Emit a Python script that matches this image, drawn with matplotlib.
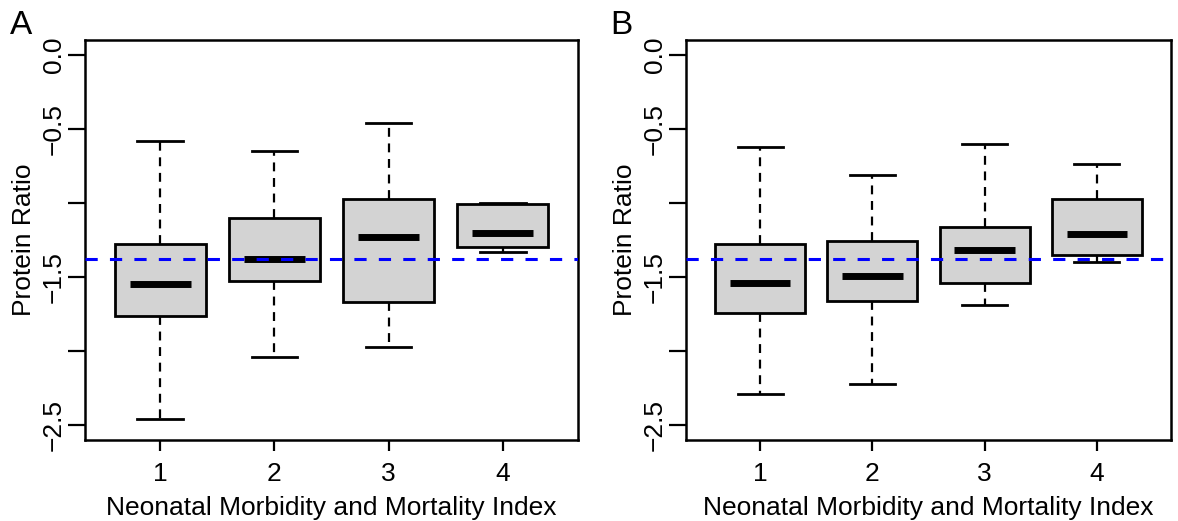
import matplotlib.pyplot as plt

plt.rcParams['font.family'] = ['Liberation Sans', 'DejaVu Sans']

# Neonatal morbidity and mortality index groups
groups = [1, 2, 3, 4]

# Panel A: whisker low, Q1, median, Q3, whisker high
a_whislo = [-2.46, -2.04, -1.97, -1.33]
a_q1 = [-1.76, -1.53, -1.67, -1.30]
a_med = [-1.55, -1.38, -1.23, -1.20]
a_q3 = [-1.28, -1.10, -0.97, -1.01]
a_whishi = [-0.58, -0.65, -0.46, -1.00]

# Panel B
b_whislo = [-2.29, -2.22, -1.69, -1.40]
b_q1 = [-1.74, -1.66, -1.54, -1.35]
b_med = [-1.54, -1.49, -1.32, -1.21]
b_q3 = [-1.28, -1.26, -1.16, -0.97]
b_whishi = [-0.62, -0.81, -0.60, -0.74]

ref_line = -1.38

yticks = [0.0, -0.5, -1.0, -1.5, -2.0, -2.5]
ytick_labels = ['0.0', '\u22120.5', '', '\u22121.5', '', '\u22122.5']

FS = 19


def draw_panel(ax, whislo, q1, med, q3, whishi, letter, fig, lx):
    stats = []
    for i in range(len(groups)):
        stats.append({'whislo': whislo[i], 'q1': q1[i], 'med': med[i],
                      'q3': q3[i], 'whishi': whishi[i], 'fliers': []})
    ax.bxp(stats, positions=groups, widths=0.8, capwidths=0.4,
           patch_artist=True, showfliers=False,
           boxprops=dict(facecolor='#d3d3d3', edgecolor='black', linewidth=2),
           whiskerprops=dict(color='black', linewidth=1.6, linestyle=(0, (4, 3))),
           capprops=dict(color='black', linewidth=2),
           medianprops=dict(visible=False))
    ax.hlines(med, [g - 0.27 for g in groups], [g + 0.27 for g in groups],
              color='black', linewidth=5, zorder=4)
    ax.axhline(ref_line, color='#0000ff', linewidth=2.2,
               linestyle=(0, (4, 4)), zorder=5)

    ax.set_xlim(0.34, 4.66)
    ax.set_ylim(-2.6, 0.1)
    ax.set_xticks(groups)
    ax.set_xticklabels([str(g) for g in groups], fontsize=FS)
    ax.set_yticks(yticks)
    ax.set_yticklabels(ytick_labels, fontsize=FS, rotation=90, va='center')
    ax.tick_params(axis='y', length=12, width=1.6, pad=2)
    ax.tick_params(axis='x', length=8, width=1.6, pad=8)
    for s in ax.spines.values():
        s.set_linewidth(1.8)
    ax.set_xlabel('Neonatal Morbidity and Mortality Index', fontsize=FS, labelpad=7)
    ax.set_ylabel('Protein Ratio', fontsize=FS, labelpad=4)
    fig.text(lx, 1 - 10 / 521, letter, fontsize=24, va='top', ha='left')


fig = plt.figure(figsize=(11.78, 5.21), dpi=100)
ax_a = fig.add_axes([85 / 1178, 81 / 521, 493 / 1178, 400 / 521])
ax_b = fig.add_axes([686 / 1178, 81 / 521, 485 / 1178, 400 / 521])

draw_panel(ax_a, a_whislo, a_q1, a_med, a_q3, a_whishi, 'A', fig, 10 / 1178)
draw_panel(ax_b, b_whislo, b_q1, b_med, b_q3, b_whishi, 'B', fig, 610 / 1178)

fig.savefig('out.png', dpi=100)
